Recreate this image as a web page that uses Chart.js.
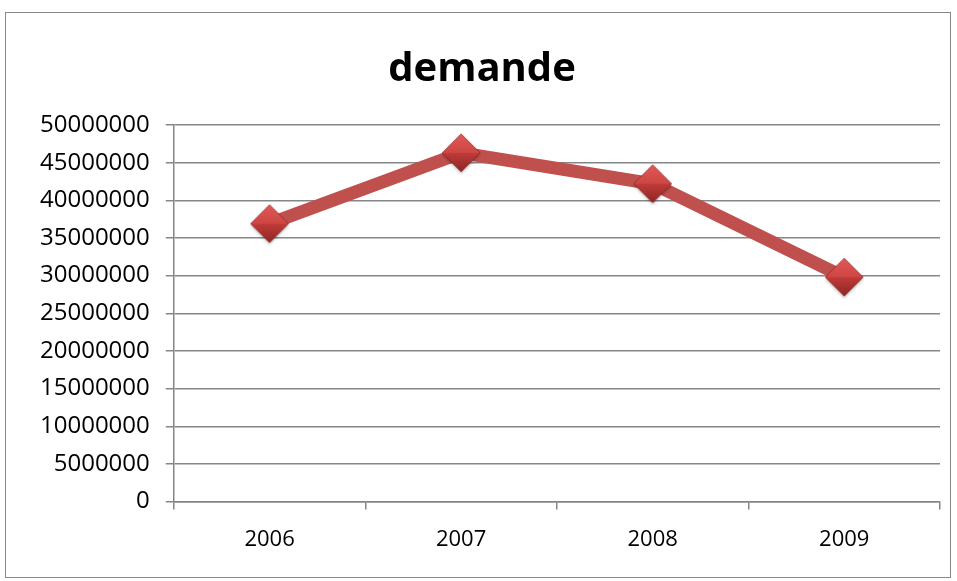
<!DOCTYPE html>
<html>
<head>
<meta charset="utf-8">
<script src="https://cdn.jsdelivr.net/npm/chart.js@4/dist/chart.umd.min.js"></script>
<style>
  html, body { margin: 0; padding: 0; background: #fff; }
  #cadre { position: absolute; left: 5px; top: 12px; width: 946px; height: 566px; border: 1px solid #888; box-sizing: border-box; }
  #cadre canvas { display: block; }
</style>
</head>
<body>
<div id="cadre"><canvas id="grafico-demande"></canvas></div>
<script>
// données
const annees = ['2006', '2007', '2008', '2009'];
const demande = [36900000, 46300000, 42200000, 29800000];
const yMin = 0;
const yMax = 50000000;
const yPas = 5000000;

const rouge = '#c0504d';

// marqueur losange avec un petit effet de relief
function creerMarqueur(taille) {
    const c = document.createElement('canvas');
    c.width = taille + 8; c.height = taille + 8;
    const g = c.getContext('2d');
    const m = c.width / 2, r = taille / 2;
    g.shadowColor = 'rgba(0,0,0,0.25)';
    g.shadowBlur = 3; g.shadowOffsetY = 2;
    g.beginPath();
    g.moveTo(m, m - r); g.lineTo(m + r, m); g.lineTo(m, m + r); g.lineTo(m - r, m); g.closePath();
    const grad = g.createLinearGradient(0, m - r, 0, m + r);
    grad.addColorStop(0, '#e05a57');
    grad.addColorStop(0.5, '#cf4644');
    grad.addColorStop(0.5, '#c03c3a');
    grad.addColorStop(1, '#8e2624');
    g.fillStyle = grad;
    g.fill();
    g.shadowColor = 'transparent';
    g.strokeStyle = 'rgba(120,30,28,0.6)';
    g.lineWidth = 1;
    g.stroke();
    return c;
}
const marqueur = creerMarqueur(38);

const ctx = document.getElementById('grafico-demande').getContext('2d');
new Chart(ctx, {
    type: 'line',
    data: {
        labels: annees,
        datasets: [{
            label: 'demande',
            data: demande,
            borderColor: rouge,
            borderWidth: 13,
            tension: 0,
            pointStyle: marqueur,
            pointRadius: 19,
            pointHoverRadius: 19
        }]
    },
    options: {
        responsive: true,
        maintainAspectRatio: false,
        animation: false,
        layout: { autoPadding: false, padding: { left: 18, right: 10, top: 33, bottom: 7 } },
        plugins: {
            legend: { display: false },
            tooltip: { enabled: false },
            title: {
                display: true,
                text: 'demande',
                color: '#000',
                font: { family: "'Open Sans', sans-serif", size: 40, weight: 'bold' },
                padding: { top: 0, bottom: 31 }
            }
        },
        scales: {
            x: {
                offset: true,
                grid: { display: true, offset: true, drawOnChartArea: false, drawTicks: true, tickLength: 8, color: '#868686', lineWidth: 1.5 },
                border: { display: true, color: '#868686', width: 1.5 },
                ticks: { color: '#000', padding: 17, font: { family: "'Open Sans', sans-serif", size: 22 } }
            },
            y: {
                min: yMin,
                max: yMax,
                grid: { color: '#868686', lineWidth: 1.5, drawTicks: true, tickLength: 8 },
                border: { display: true, color: '#868686', width: 1.5 },
                ticks: {
                    stepSize: yPas,
                    color: '#000',
                    padding: 16,
                    font: { family: "'Open Sans', sans-serif", size: 24 },
                    callback: function(value) { return String(value); }
                }
            }
        }
    }
});
</script>
</body>
</html>
